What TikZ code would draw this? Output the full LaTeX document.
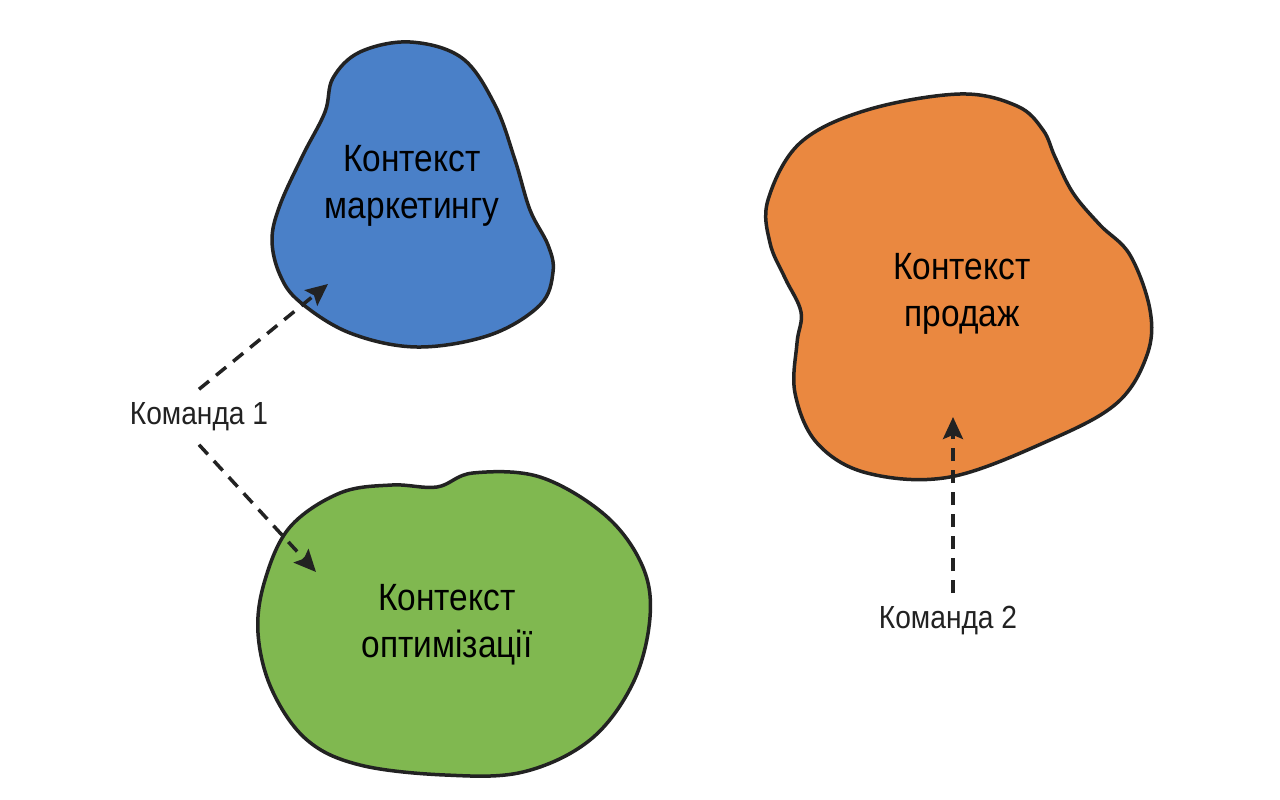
\documentclass[tikz,border=0pt]{standalone}
\usepackage{fontspec}
\setmainfont{Liberation Sans}[FakeStretch=0.88]
\usepackage{tikz}
\usetikzlibrary{arrows.meta}
\usepackage{xcolor}
\definecolor{mktblue}{HTML}{4A80C8}
\definecolor{optgreen}{HTML}{80B850}
\definecolor{salesorange}{HTML}{EA8840}
\definecolor{inkdark}{HTML}{222222}

\begin{document}
\begin{tikzpicture}[x=1pt, y=-1pt,
	blob/.style={draw=inkdark, line width=3.5pt},
	ctxlabel/.style={align=center, font=\fontsize{38}{47}\selectfont, text=black},
	cmdlabel/.style={font=\fontsize{32}{36}\selectfont, text=inkdark},
	cmdarrow/.style={dash pattern=on 13pt off 9pt, line width=3.5pt, draw=inkdark, -{Stealth[length=22pt, width=20pt, inset=4pt]}}]
	\useasboundingbox (0,0) rectangle (1280,800);
	\fill [white] (0,0) rectangle (1280,800);
	% marketing context
	\draw [blob, fill=mktblue] plot [smooth cycle, tension=0.6] coordinates {(410,42) (462,58) (495,105) (515,160) (530,210) (548,245) (553,272) (540,305) (490,335) (417,347) (350,333) (300,302) (280,275) (272,240) (280,205) (303,155) (325,112) (333,78) (360,52)};
	% sales context
	\draw [blob, fill=salesorange] plot [smooth cycle, tension=0.6] coordinates {(800,143) (867,110) (960,94) (1017,106) (1043,130) (1055,157) (1073,193) (1100,225) (1130,255) (1150,310) (1147,355) (1117,403) (1050,440) (950,477) (867,473) (817,443) (795,393) (797,343) (801,312) (785,278) (770,243) (768,200)};
	% optimization context
	\draw [blob, fill=optgreen] plot [smooth cycle, tension=0.6] coordinates {(437,487) (473,473) (540,477) (605,515) (642,565) (650,617) (633,683) (590,740) (523,772) (445,775) (360,765) (307,740) (272,690) (258,633) (265,580) (290,527) (340,493) (392,485)};
	% labels
	\node [ctxlabel] (mkt) at (412,186) {Контекст\\маркетингу};
	\node [ctxlabel] (sales) at (962,294) {Контекст\\продаж};
	\node [ctxlabel] (opt) at (447,625) {Контекст\\оптимізації};
	\node [cmdlabel] (cmd1) at (199,417) {Команда 1};
	\node [cmdlabel] (cmd2) at (948,621) {Команда 2};
	% arrow ends
	\coordinate (mkttip) at (328,284);
	\coordinate (opttip) at (316,572);
	\coordinate (salestip) at (953,417);
	\draw [cmdarrow] ([yshift=10pt]cmd1.north) -- (mkttip);
	\draw [cmdarrow] ([yshift=-10pt]cmd1.south) -- (opttip);
	\draw [cmdarrow] ([xshift=5pt, yshift=10pt]cmd2.north) -- (salestip);
\end{tikzpicture}
\end{document}
